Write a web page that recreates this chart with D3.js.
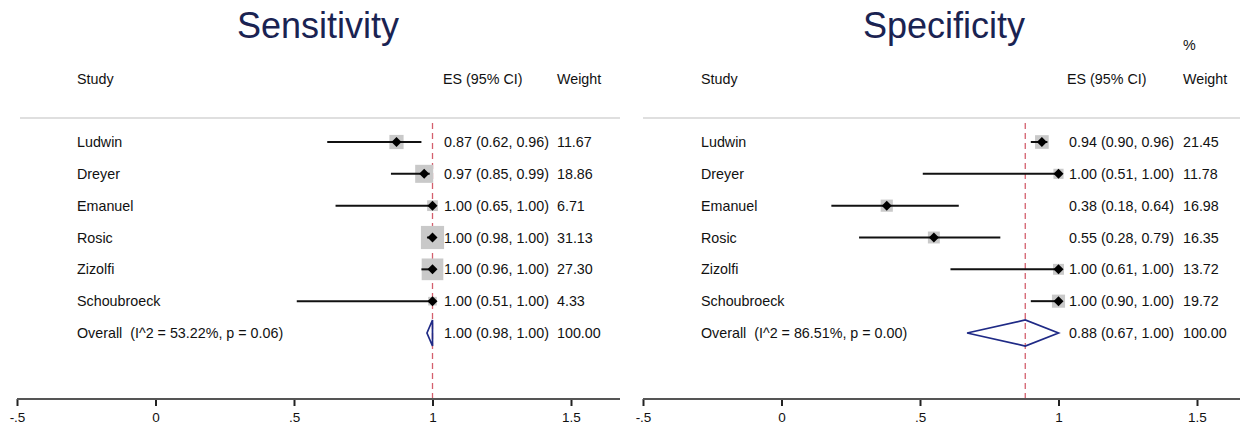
<!DOCTYPE html>
<html>
<head>
<meta charset="utf-8">
<script src="https://cdn.jsdelivr.net/npm/d3@7"></script>
<style>
  html, body { margin: 0; padding: 0; background: #fff; }
  svg { display: block; font-family: "Liberation Sans", Arial, sans-serif; }
  text { white-space: pre; }
</style>
</head>
<body>
<svg id="chart" width="1240" height="429"></svg>
<script>
// Study names, shared by both panels
const studies = ["Ludwin", "Dreyer", "Emanuel", "Rosic", "Zizolfi", "Schoubroeck"];

// Sensitivity: estimates, 95% CI bounds and % weights
const sensES = [0.87, 0.97, 1.00, 1.00, 1.00, 1.00];
const sensLo = [0.62, 0.85, 0.65, 0.98, 0.96, 0.51];
const sensHi = [0.96, 0.99, 1.00, 1.00, 1.00, 1.00];
const sensWeight = [11.67, 18.86, 6.71, 31.13, 27.30, 4.33];
const sensOverall = [1.00, 0.98, 1.00];          // ES, lower, upper
const sensHet = ["53.22%", "0.06"];               // I^2, p

// Specificity: estimates, 95% CI bounds and % weights
const specES = [0.94, 1.00, 0.38, 0.55, 1.00, 1.00];
const specLo = [0.90, 0.51, 0.18, 0.28, 0.61, 0.90];
const specHi = [0.96, 1.00, 0.64, 0.79, 1.00, 1.00];
const specWeight = [21.45, 11.78, 16.98, 16.35, 13.72, 19.72];
const specOverall = [0.88, 0.67, 1.00];
const specHet = ["86.51%", "0.00"];

// Axis ticks and their labels
const tickValues = [-0.5, 0, 0.5, 1, 1.5];
const tickLabels = ["-.5", "0", ".5", "1", "1.5"];

const svg = d3.select("#chart");
const fmt = d3.format(".2f");
const rowKeys = [...studies, "Overall"];
const y = d3.scalePoint().domain(rowKeys).range([142, 333]);
const FS = 14.3;

function drawPanel(opt) {
  const g = svg.append("g");
  const x = d3.scaleLinear().domain([-0.5, 1.5]).range([opt.x0, opt.x0 + 554]);
  const overall = opt.overall;

  // title
  g.append("text")
    .attr("x", opt.titleX).attr("y", 38)
    .attr("text-anchor", "middle")
    .attr("font-size", 36)
    .attr("fill", "#1a2352")
    .text(opt.title);

  // column headers
  const hdr = g.append("g").attr("font-size", FS).attr("fill", "#111");
  hdr.append("text").attr("x", opt.studyX).attr("y", 84).text("Study");
  hdr.append("text").attr("x", opt.esHdrX).attr("y", 84).text("ES (95% CI)");
  hdr.append("text").attr("x", opt.wX).attr("y", 84).text("Weight");
  if (opt.percent) hdr.append("text").attr("x", opt.wX).attr("y", 50).text("%");

  // separator under the header
  g.append("line")
    .attr("x1", opt.sepX0).attr("x2", opt.sepX1)
    .attr("y1", 118).attr("y2", 118)
    .attr("stroke", "#d4d4d4").attr("stroke-width", 1.5);

  // reference line at the pooled estimate
  g.append("line")
    .attr("x1", x(overall[0])).attr("x2", x(overall[0]))
    .attr("y1", 123).attr("y2", 399)
    .attr("stroke", "#d4606e").attr("stroke-width", 1.3)
    .attr("stroke-dasharray", "6,4");

  const rows = studies.map((s, i) => ({
    name: s, es: opt.es[i], lo: opt.lo[i], hi: opt.hi[i], w: opt.w[i]
  }));

  // weight boxes
  g.selectAll("rect.box").data(rows).join("rect")
    .attr("class", "box")
    .attr("x", d => x(d.es) - opt.boxK * Math.sqrt(d.w) / 2)
    .attr("y", d => y(d.name) - opt.boxK * Math.sqrt(d.w) / 2)
    .attr("width", d => opt.boxK * Math.sqrt(d.w))
    .attr("height", d => opt.boxK * Math.sqrt(d.w))
    .attr("fill", "#c9c9c9");

  // confidence intervals
  g.selectAll("line.ci").data(rows).join("line")
    .attr("class", "ci")
    .attr("x1", d => x(d.lo)).attr("x2", d => x(d.hi))
    .attr("y1", d => y(d.name)).attr("y2", d => y(d.name))
    .attr("stroke", "#111").attr("stroke-width", 2);

  // point estimates
  g.selectAll("path.pt").data(rows).join("path")
    .attr("class", "pt")
    .attr("d", d => {
      const cx = x(d.es), cy = y(d.name), r = 5;
      return `M${cx - r},${cy}L${cx},${cy - r}L${cx + r},${cy}L${cx},${cy + r}Z`;
    })
    .attr("fill", "#000");

  // pooled estimate diamond
  const oy = y("Overall");
  g.append("path")
    .attr("d", `M${x(overall[1])},${oy}L${x(overall[0])},${oy - 13}L${x(overall[2])},${oy}L${x(overall[0])},${oy + 13}Z`)
    .attr("fill", "none")
    .attr("stroke", "#1f2a86").attr("stroke-width", 1.7)
    .attr("stroke-linejoin", "miter");

  // row labels and values
  const txt = g.append("g").attr("font-size", FS).attr("fill", "#111");
  const labelRows = [
    ...rows.map(d => ({ key: d.name, label: d.name, es: d.es, lo: d.lo, hi: d.hi, w: fmt(d.w) })),
    { key: "Overall", label: `Overall  (I^2 = ${opt.het[0]}, p = ${opt.het[1]})`,
      es: overall[0], lo: overall[1], hi: overall[2], w: "100.00" }
  ];
  txt.selectAll("text.lab").data(labelRows).join("text")
    .attr("class", "lab")
    .attr("x", opt.studyX).attr("y", d => y(d.key) + 5)
    .text(d => d.label);
  txt.selectAll("text.es").data(labelRows).join("text")
    .attr("class", "es")
    .attr("x", opt.esX).attr("y", d => y(d.key) + 5)
    .attr("text-anchor", "end")
    .text(d => `${fmt(d.es)} (${fmt(d.lo)}, ${fmt(d.hi)})`);
  txt.selectAll("text.w").data(labelRows).join("text")
    .attr("class", "w")
    .attr("x", opt.wX).attr("y", d => y(d.key) + 5)
    .text(d => d.w);

  // x axis
  const axis = g.append("g")
    .attr("transform", "translate(0,399)")
    .call(d3.axisBottom(x)
      .tickValues(tickValues)
      .tickFormat((d, i) => tickLabels[i])
      .tickSize(7).tickPadding(6));
  axis.select(".domain").remove();
  axis.selectAll(".tick line").attr("stroke", "#222").attr("stroke-width", 2);
  axis.selectAll(".tick text")
    .attr("font-size", 13.5).attr("fill", "#111")
    .attr("font-family", "'Liberation Sans', Arial, sans-serif");
  axis.append("line")
    .attr("x1", x(-0.5)).attr("x2", opt.axisEnd)
    .attr("y1", 0).attr("y2", 0)
    .attr("stroke", "#555").attr("stroke-width", 2.2);
}

drawPanel({
  title: "Sensitivity", titleX: 318, x0: 17,
  studyX: 77, esX: 549, esHdrX: 443, wX: 557, percent: false,
  sepX0: 20, sepX1: 620, axisEnd: 620, boxK: 4.15,
  es: sensES, lo: sensLo, hi: sensHi, w: sensWeight,
  overall: sensOverall, het: sensHet
});

drawPanel({
  title: "Specificity", titleX: 944, x0: 643,
  studyX: 701, esX: 1174, esHdrX: 1067, wX: 1183, percent: true,
  sepX0: 643, sepX1: 1240, axisEnd: 1240, boxK: 2.95,
  es: specES, lo: specLo, hi: specHi, w: specWeight,
  overall: specOverall, het: specHet
});
</script>
</body>
</html>
